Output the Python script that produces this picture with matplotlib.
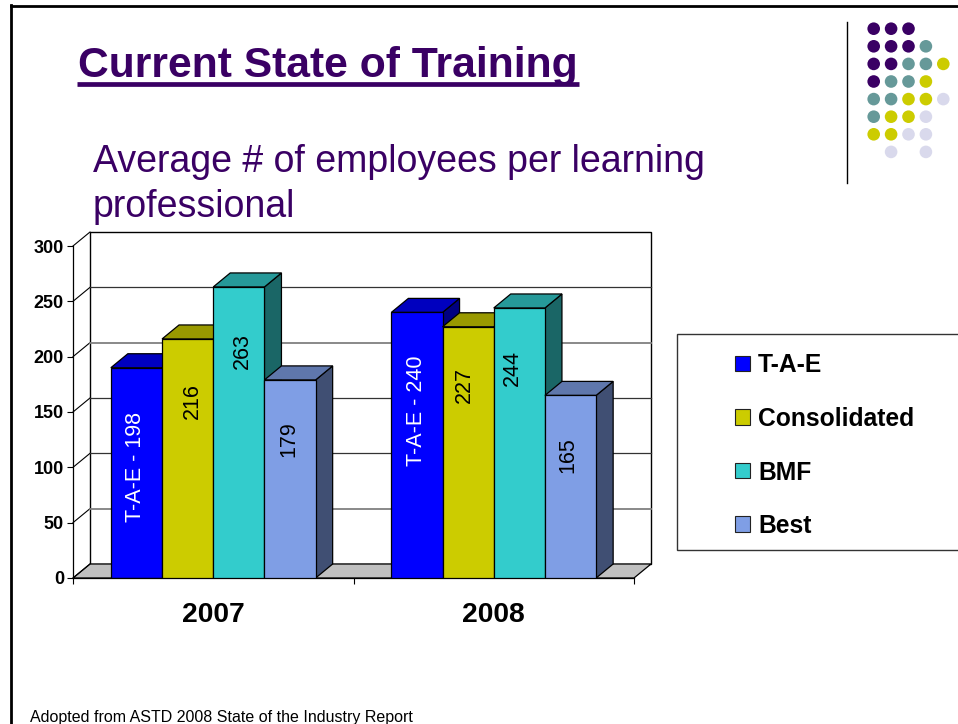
import matplotlib
matplotlib.use("Agg")
import matplotlib.pyplot as plt
from matplotlib.patches import Polygon, Rectangle, Circle
from matplotlib.colors import to_rgb

plt.rcParams['font.family'] = ['Liberation Sans', 'DejaVu Sans']

# data
years = ["2007", "2008"]
series = ["T-A-E", "Consolidated", "BMF", "Best"]
tae = [190, 240]  # drawn shorter than its 198 label in 2007
consolidated = [216, 227]
bmf = [263, 244]
best = [179, 165]
tae_labels = ["T-A-E - 198", "T-A-E - 240"]
consolidated_labels = ["216", "227"]
bmf_labels = ["263", "244"]
best_labels = ["179", "165"]
yticks = [0, 50, 100, 150, 200, 250, 300]
colors = ["#0000FF", "#CCCC00", "#33CCCC", "#7F9EE5"]

# logo dots, P purple T teal Y yellow L lavender
dot_rows = ["PPP..", "PPPT.", "PPTTY", "PTTY.", "TTYYL", "TYYL.", "YYLL.", ".L.L."]
dot_colors = {"P": "#3A0064", "T": "#669999", "Y": "#CCCC00", "L": "#D9D9EC"}

W, H = 958, 724
fig = plt.figure(figsize=(W / 100, H / 100), dpi=100)

# slide layer in pixel coords
bg = fig.add_axes([0, 0, 1, 1])
bg.set_xlim(0, W)
bg.set_ylim(H, 0)
bg.axis("off")

bg.plot([11, 11], [5, H], color="black", lw=2)
bg.plot([11, W], [5.5, 5.5], color="black", lw=2)
purple = "#3A0064"
bg.text(78, 76.5, "Current State of Training", fontsize=30.7, fontweight="bold", color=purple)
bg.plot([77, 579], [83.5, 83.5], color=purple, lw=3.4, solid_capstyle="butt")
bg.text(93, 172, "Average # of employees per learning", fontsize=27, color=purple)
bg.text(93, 217, "professional", fontsize=27, color=purple)
bg.text(30, 722, "Adopted from ASTD 2008 State of the Industry Report", fontsize=11.5, color="black")

bg.plot([847, 847], [22, 183], color="black", lw=1)
for r, row in enumerate(dot_rows):
    for c, ch in enumerate(row):
        if ch != ".":
            bg.add_patch(Circle((873.7 + c * 17.4, 28.7 + r * 17.6), 6.3, color=dot_colors[ch], lw=0))

# legend box runs off the right edge
bg.add_patch(Rectangle((677, 334), 300, 216, fc="white", ec="#333333", lw=1))
for i, name in enumerate(series):
    ty = 363 + i * 53.6
    bg.add_patch(Rectangle((735, ty - 7.5), 15.5, 15.5, fc=colors[i], ec="#222222", lw=0.8))
    bg.text(758, ty, name, fontsize=17.7, fontweight="bold", va="center_baseline")

# chart axes, front plane of the 3d box
ax = fig.add_axes([73 / W, 1 - 578 / H, 561 / W, 332 / H])
ax.patch.set_alpha(0)
ax.set_xlim(0, 2)
ax.set_ylim(0, 300)
for s in ["top", "right"]:
    ax.spines[s].set_visible(False)
ax.spines["left"].set_linewidth(0.9)
ax.spines["bottom"].set_linewidth(0.9)

depth_x = 17 / (561 / 2)
depth_y = 14 / (332 / 300)

# walls and floor
ax.add_patch(Rectangle((depth_x, depth_y), 2, 300, fc="white", ec="black", lw=1, clip_on=False, zorder=0.5))
ax.add_patch(Polygon([(0, 0), (2, 0), (2 + depth_x, depth_y), (depth_x, depth_y)], fc="#C0C0C0", ec="black",
                     lw=0.9, clip_on=False, zorder=0.6))
soft_grid = [50, 200]
for v in yticks:
    ax.plot([0, depth_x], [v, v + depth_y], color="black", lw=0.8, clip_on=False, zorder=0.7)
    if v > 0 and v < 300:
        grid_c = "#808080" if v in soft_grid else "#333333"
        grid_w = 1.3 if v in soft_grid else 0.9
        ax.plot([depth_x, 2 + depth_x], [v + depth_y, v + depth_y], color=grid_c, lw=grid_w, clip_on=False, zorder=0.7)


def shade(color, k):
    return tuple(c * k for c in to_rgb(color))


bar_w = 51.2 / 280.5
values = [tae, consolidated, bmf, best]
labels = [tae_labels, consolidated_labels, bmf_labels, best_labels]
label_dx = [[-1, 5, 4, -1], [0, -4, -7, -3]]
label_dy = [[-99, -62, -64, -59], [-98, -58, -60, -60]]
z = 2
for g in range(len(years)):
    left = g + 0.5 - 2 * bar_w
    for i in range(len(series)):
        v = values[i][g]
        x0 = left + i * bar_w
        x1 = x0 + bar_w
        top = [(x0, v), (x1, v), (x1 + depth_x, v + depth_y), (x0 + depth_x, v + depth_y)]
        side = [(x1, 0), (x1 + depth_x, depth_y), (x1 + depth_x, v + depth_y), (x1, v)]
        ax.add_patch(Polygon(side, fc=shade(colors[i], 0.5), ec="black", lw=0.9, clip_on=False, zorder=z))
        ax.add_patch(Polygon(top, fc=shade(colors[i], 0.75), ec="black", lw=0.9, clip_on=False, zorder=z))
        ax.bar(x0, v, width=bar_w, align="edge", color=colors[i], edgecolor="black", linewidth=0.9, zorder=z + 0.1)
        z += 1
        ax.annotate(labels[i][g], xy=(x0 + bar_w / 2, v), xytext=(label_dx[g][i], label_dy[g][i]),
                    textcoords="offset pixels", rotation=90, ha="center", va="center", fontsize=15.5,
                    color="white" if i == 0 else "black", zorder=100)

ax.set_yticks(yticks)
ax.set_yticklabels([str(v) for v in yticks], fontsize=13, fontweight="bold")
ax.set_xticks([0, 1, 2])
ax.set_xticklabels([])
ax.tick_params(axis="y", length=4.5, width=0.8, pad=2)
ax.tick_params(axis="x", length=4, width=0.8)
for g, year in enumerate(years):
    ax.text(g + 0.5, -33, year, fontsize=20.3, fontweight="bold", ha="center", va="center")

fig.savefig("out.png", dpi=100)
